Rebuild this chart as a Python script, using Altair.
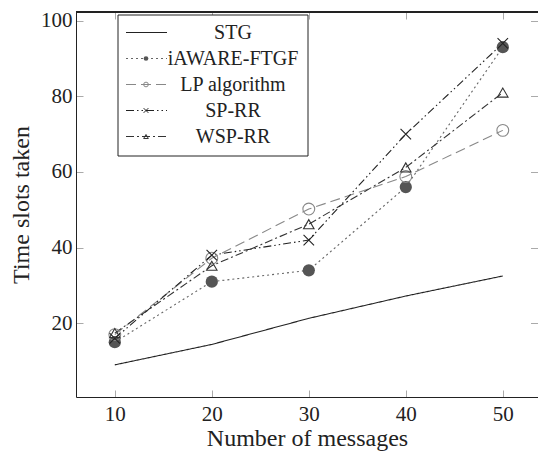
import altair as alt
import pandas as pd

# ---- data ----
messages = [10, 20, 30, 40, 50]
series_names = ["STG", "iAWARE-FTGF", "LP algorithm", "SP-RR", "WSP-RR"]
stg = [9.0, 14.4, 21.3, 27.2, 32.5]
iaware_ftgf = [15.0, 31.0, 34.0, 56.0, 93.0]
lp_algorithm = [17.0, 37.2, 50.2, 58.8, 71.0]
sp_rr = [16.0, 38.0, 42.0, 70.0, 94.0]
wsp_rr = [17.4, 35.2, 46.2, 61.2, 81.0]
x_ticks = [10, 20, 30, 40, 50]
y_ticks = [20, 40, 60, 80, 100]

values = [stg, iaware_ftgf, lp_algorithm, sp_rr, wsp_rr]
rows = []
for name, vals in zip(series_names, values):
    for m, v in zip(messages, vals):
        rows.append({"series": name, "x": m, "y": v})
df = pd.DataFrame(rows)
legend_df = pd.DataFrame({"series": series_names})

W, H = 462, 385
FONT = "Liberation Serif"
XSHAPE = "M-1,-1L1,1M-1,1L1,-1"

styles = {
    "STG": dict(color="#222222", dash=[1, 0], shape=None, filled=False, msize=0),
    "iAWARE-FTGF": dict(color="#666666", dash=[2, 3], shape="circle", filled=True, msize=150),
    "LP algorithm": dict(color="#888888", dash=[10, 5], shape="circle", filled=False, msize=140),
    "SP-RR": dict(color="#222222", dash=[8, 3, 1.5, 3, 1.5, 3], shape=XSHAPE, filled=False, msize=110),
    "WSP-RR": dict(color="#333333", dash=[8, 3, 2, 3], shape="triangle-up", filled=False, msize=110),
}

xaxis = alt.Axis(values=x_ticks, title="Number of messages", grid=True,
                 gridDash=[7, H - 14, 7, 2000], gridColor="#aaaaaa", gridWidth=1,
                 ticks=False, labelPadding=6, labelFontSize=21,
                 labelColor="#222222", titleFontSize=24,
                 titleFontWeight="normal", titleColor="#222222", titlePadding=2,
                 domainColor="#222222", domainWidth=1, labelFlush=False)
yaxis = alt.Axis(values=y_ticks, title="Time slots taken", grid=True,
                 gridDash=[7, W - 11, 10, 2000], gridColor="#aaaaaa", gridWidth=1,
                 ticks=False, labelPadding=4, labelFontSize=21,
                 labelColor="#222222", titleFontSize=24,
                 titleFontWeight="normal", titleColor="#222222", titlePadding=7,
                 domainColor="#222222", domainWidth=1)
X = alt.X("x:Q", scale=alt.Scale(domain=[6, 53.63], nice=False, zero=False), axis=xaxis)
Y = alt.Y("y:Q", scale=alt.Scale(domain=[0.5, 102.3], nice=False, zero=False), axis=yaxis)

base = alt.Chart(df)
layers = []
for name in series_names:
    s = styles[name]
    f = base.transform_filter(alt.datum.series == name)
    layers.append(f.mark_line(color=s["color"], strokeDash=s["dash"], strokeWidth=1.1).encode(x=X, y=Y))
for name in series_names:
    s = styles[name]
    if s["shape"] is None:
        continue
    f = base.transform_filter(alt.datum.series == name)
    if s["filled"]:
        mk = f.mark_point(shape=s["shape"], filled=True, color="#555555", size=s["msize"], opacity=1)
    else:
        mk = f.mark_point(shape=s["shape"], filled=False, color=s["color"], size=s["msize"],
                          strokeWidth=1.1, opacity=1)
    layers.append(mk.encode(x=X, y=Y))

# top frame line
layers.append(base.mark_rule(color="#222222", strokeWidth=1).encode(
    x=alt.value(0), x2=alt.value(W), y=alt.value(0)))

# legend
lbase = alt.Chart(legend_df)
LY = alt.Y("series:N", scale=alt.Scale(type="point", domain=series_names, range=[20.5, 124.5], padding=0), axis=None)
legend_layers = [
    lbase.transform_filter(alt.datum.series == "STG").mark_rect(
        fill="white", stroke="#222222", strokeWidth=1).encode(
        x=alt.value(42), x2=alt.value(232), y=alt.value(3), y2=alt.value(144))
]
for name in series_names:
    s = styles[name]
    f = lbase.transform_filter(alt.datum.series == name)
    legend_layers.append(f.mark_rule(color=s["color"], strokeDash=s["dash"], strokeWidth=1.1).encode(
        x=alt.value(50), x2=alt.value(91), y=LY))
    if s["shape"] is not None:
        if s["filled"]:
            legend_layers.append(f.mark_point(shape=s["shape"], filled=True, color="#555555", size=22, opacity=1).encode(
                x=alt.value(70), y=LY))
        else:
            legend_layers.append(f.mark_point(shape=s["shape"], filled=False, color=s["color"], size=22,
                                              strokeWidth=1, opacity=1).encode(x=alt.value(70), y=LY))
legend_layers.append(lbase.mark_text(font=FONT, fontSize=20, color="#222222", align="center", baseline="middle").encode(
    x=alt.value(157), y=LY, text="series:N"))

chart = alt.layer(*layers, *legend_layers).resolve_scale(y="independent").properties(
    width=W, height=H, autosize="none",
    padding={"left": 76, "top": 12, "right": 0, "bottom": 55},
    background="white",
).configure_view(stroke=None).configure_axis(
    labelFont=FONT, titleFont=FONT
).configure_text(font=FONT)

chart.save("out.html", embed_options={"renderer": "svg", "actions": False})
